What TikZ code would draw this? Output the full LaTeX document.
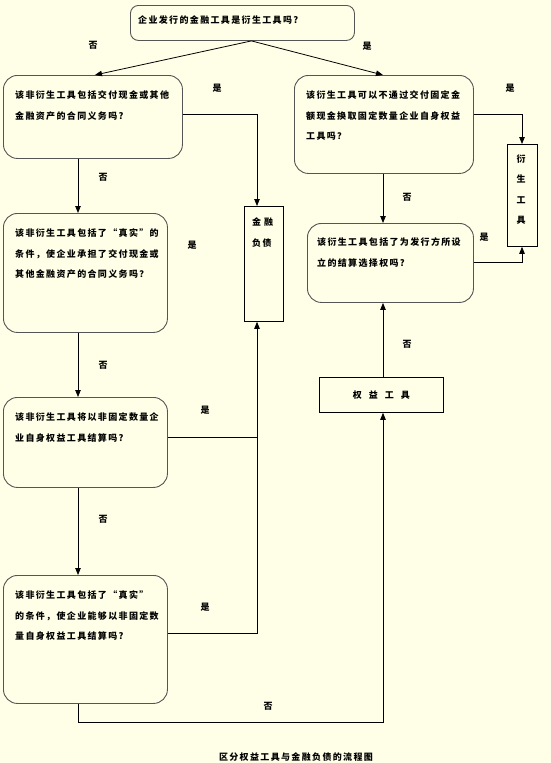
\documentclass[tikz,border=0pt]{standalone}
\usepackage{fontspec}
\newfontfamily\cjk[LetterSpace=15]{Noto Sans CJK SC}
\usetikzlibrary{arrows.meta}
\definecolor{bg}{RGB}{255,255,232}
\definecolor{bord}{RGB}{85,85,85}
\begin{document}
\begin{tikzpicture}[x=1pt,y=-1pt,
  every node/.style={font=\cjk\bfseries\fontsize{9}{20.5}\selectfont},
  qbox/.style={draw=bord, line width=0.9pt, rounded corners=14pt, anchor=north west, inner sep=0pt},
  rbox/.style={draw=black, line width=0.8pt, anchor=north west, inner sep=0pt},
  txt/.style={anchor=north west, inner sep=0pt, align=left},
  lbl/.style={inner sep=0pt},
  link/.style={line width=0.8pt},
  arr/.style={link, -{Triangle[length=7pt,width=5.5pt]}}]
\fill[bg] (0,0) rectangle (551,763);
\useasboundingbox (0,0) rectangle (551,763);
% column and row guides
\coordinate (colL) at (78,0);
\coordinate (colM) at (257,0);
\coordinate (colR) at (383,0);
\coordinate (colDR) at (522,0);
\coordinate (rowA) at (0,114);
\coordinate (rowC) at (0,437);
\coordinate (rowD) at (0,633);
\coordinate (rowF) at (0,262);
\coordinate (rowBot) at (0,722);
% boxes
\node[qbox, rounded corners=8pt, minimum width=224pt, minimum height=35pt] (top) at (130,5) {};
\node[qbox, minimum width=179pt, minimum height=83pt] (A) at (3,75) {};
\node[qbox, minimum width=164pt, minimum height=119pt] (B) at (3,213) {};
\node[qbox, minimum width=164pt, minimum height=90pt] (C) at (3,397) {};
\node[qbox, minimum width=164pt, minimum height=128pt] (D) at (3,575) {};
\node[qbox, minimum width=179pt, minimum height=98pt] (E) at (294,75) {};
\node[qbox, minimum width=166pt, minimum height=79pt] (F) at (307,223) {};
\node[rbox, minimum width=39pt, minimum height=115pt] (FL) at (244,206) {};
\node[rbox, minimum width=30pt, minimum height=102pt] (DR) at (507,144) {};
\node[rbox, minimum width=124pt, minimum height=35pt] (EQ) at (319,377) {};
% texts
\node[txt] (ttop) at (138,15.5) {企业发行的金融工具是衍生工具吗?};
\node[txt] (tA) at (15,90.5) {该非衍生工具包括交付现金或其他\\金融资产的合同义务吗?};
\node[txt] (tB) at (15,228.5) {该非衍生工具包括了“真实”的\\条件，使企业承担了交付现金或\\其他金融资产的合同义务吗？};
\node[txt] (tC) at (15,412.5) {该非衍生工具将以非固定数量企\\业自身权益工具结算吗?};
\node[txt] (tD) at (15,590.5) {该非衍生工具包括了“真实”\\的条件，使企业能够以非固定数\\量自身权益工具结算吗?};
\node[txt] (tE) at (306,90.5) {该衍生工具可以不通过交付固定金\\额现金换取固定数量企业自身权益\\工具吗？};
\node[txt] (tF) at (317,237.5) {该衍生工具包括了为发行方所设\\立的结算选择权吗?};
\node[txt] (tFL) at (252,217.5) {金\hspace{3pt}融\\负债};
\node[anchor=north, inner sep=0pt, align=center] (tDR) at (521,154.5) {衍\\生\\工\\具};
\node[inner sep=0pt] (tEQ) at (EQ.center) {权\hspace{7pt}益\hspace{7pt}工\hspace{7pt}具};
\node[inner sep=0pt] (cap) at (296,757) {区分权益工具与金融负债的流程图};
% labels
\node[lbl] (l1) at (93,45) {否};
\node[lbl] (l2) at (367,46) {是};
\node[lbl] (l3) at (217,88) {是};
\node[lbl] (l4) at (103,177) {否};
\node[lbl] (l5) at (192,245) {是};
\node[lbl] (l6) at (103,365) {否};
\node[lbl] (l7) at (205,410) {是};
\node[lbl] (l8) at (103,519) {否};
\node[lbl] (l9) at (205,607) {是};
\node[lbl] (l10) at (268,706) {否};
\node[lbl] (l11) at (510,88) {是};
\node[lbl] (l12) at (407,197) {否};
\node[lbl] (l13) at (484,237) {是};
\node[lbl] (l14) at (407,344) {否};
% connectors
\draw[arr] ([xshift=9pt]top.south) -- ([xshift=2pt]A.north);
\draw[arr] ([xshift=9pt]top.south) -- ([xshift=-1pt]E.north);
\draw[arr] (A.south -| colL) -- (B.north -| colL);
\draw[arr] (B.south -| colL) -- (C.north -| colL);
\draw[arr] (C.south -| colL) -- (D.north -| colL);
\draw[arr] (A.east |- rowA) -- (colM |- rowA) -- (FL.north -| colM);
\draw[arr] (C.east |- rowC) -- (colM |- rowC) -- (FL.south -| colM);
\draw[link] (D.east |- rowD) -- (colM |- rowD) -- (colM |- rowC);
\draw[arr] (D.south -| colL) -- (colL |- rowBot) -- (colR |- rowBot) -- (EQ.south -| colR);
\draw[arr] (E.south -| colR) -- (F.north -| colR);
\draw[arr] (E.east |- rowA) -- (colDR |- rowA) -- (DR.north -| colDR);
\draw[arr] (F.east |- rowF) -- (colDR |- rowF) -- (DR.south -| colDR);
\draw[arr] (EQ.north -| colR) -- (F.south -| colR);
\end{tikzpicture}
\end{document}
